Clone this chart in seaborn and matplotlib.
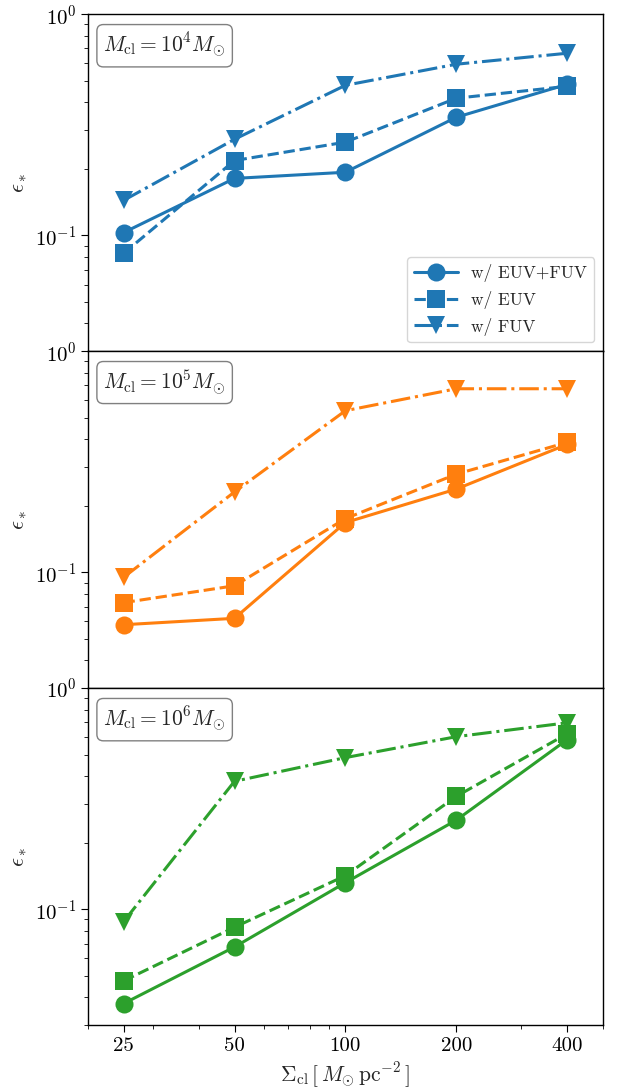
import numpy as np
import pandas as pd
import matplotlib
matplotlib.use("Agg")
import matplotlib.pyplot as plt
import matplotlib.ticker as mticker
import seaborn as sns

sigma = [25, 50, 100, 200, 400]
masses = ["10^4", "10^5", "10^6"]
models = ["w/ EUV+FUV", "w/ EUV", "w/ FUV"]

eps_1e4_both = [0.103, 0.181, 0.193, 0.342, 0.482]
eps_1e4_euv = [0.083, 0.218, 0.264, 0.417, 0.472]
eps_1e4_fuv = [0.144, 0.272, 0.477, 0.594, 0.666]

eps_1e5_both = [0.058, 0.062, 0.168, 0.238, 0.379]
eps_1e5_euv = [0.073, 0.087, 0.175, 0.278, 0.387]
eps_1e5_fuv = [0.095, 0.231, 0.538, 0.676, 0.676]

eps_1e6_both = [0.0375, 0.0676, 0.132, 0.253, 0.585]
eps_1e6_euv = [0.0475, 0.083, 0.142, 0.324, 0.622]
eps_1e6_fuv = [0.088, 0.379, 0.485, 0.603, 0.697]

panels = [
    (eps_1e4_both, eps_1e4_euv, eps_1e4_fuv),
    (eps_1e5_both, eps_1e5_euv, eps_1e5_fuv),
    (eps_1e6_both, eps_1e6_euv, eps_1e6_fuv),
]
colors = ["#1f77b4", "#ff7f0e", "#2ca02c"]

sns.set_style("ticks")
plt.rcParams["font.family"] = "serif"
plt.rcParams["font.serif"] = ["cmr10", "DejaVu Serif"]
plt.rcParams["mathtext.fontset"] = "cm"
plt.rcParams["axes.formatter.use_mathtext"] = True
plt.rcParams["axes.unicode_minus"] = False
plt.rcParams["axes.edgecolor"] = "black"
plt.rcParams["xtick.color"] = "black"
plt.rcParams["ytick.color"] = "black"

fig, axes = plt.subplots(3, 1, figsize=(6.19, 10.9), dpi=100, sharex=True)
fig.subplots_adjust(left=0.142, right=0.974, top=0.987, bottom=0.0596, hspace=0)

markers = {models[0]: "o", models[1]: "s", models[2]: "v"}
dashes = {models[0]: "", models[1]: (3.7, 1.6), models[2]: (6.4, 1.6, 1.0, 1.6)}

for i, ax in enumerate(axes):
    ax.set_xscale("log")
    ax.set_yscale("log")
    rows = []
    for m, vals in zip(models, panels[i]):
        for s, v in zip(sigma, vals):
            rows.append({"sigma": s, "eps": v, "model": m})
    df = pd.DataFrame(rows)
    sns.lineplot(data=df, x="sigma", y="eps", style="model", markers=markers,
                 dashes=dashes, color=colors[i], ax=ax, linewidth=2.2,
                 markersize=13, markeredgewidth=0, legend=(i == 0))
    ax.set_ylim(0.03, 1.0)
    ax.set_xlim(20, 500)
    ax.set_ylabel(r"$\epsilon_*$", fontsize=16)
    ax.set_xlabel("")
    ax.tick_params(axis="both", which="major", labelsize=15, length=5, direction="out")
    ax.tick_params(axis="both", which="minor", length=3, direction="out")
    ax.text(0.03, 0.95, r"$M_{\rm cl}=10^%s M_{\odot}$" % masses[i][-1], transform=ax.transAxes,
            fontsize=15.5, va="top", ha="left",
            bbox=dict(boxstyle="round,pad=0.3", facecolor="white", edgecolor="gray"))
    for sp in ax.spines.values():
        sp.set_linewidth(1.0)

axes[0].legend(loc="lower right", fontsize=12.5, framealpha=0.8, markerscale=1.0,
               handlelength=2.5)
axes[-1].set_xticks(sigma)
axes[-1].xaxis.set_major_formatter(mticker.FixedFormatter([str(s) for s in sigma]))
axes[-1].xaxis.set_minor_formatter(mticker.NullFormatter())
axes[-1].set_xlabel(r"$\Sigma_{\rm cl}\,[\,M_{\odot}\,{\rm pc}^{-2}\,]$", fontsize=15.5)

fig.savefig("out.png", dpi=100)
